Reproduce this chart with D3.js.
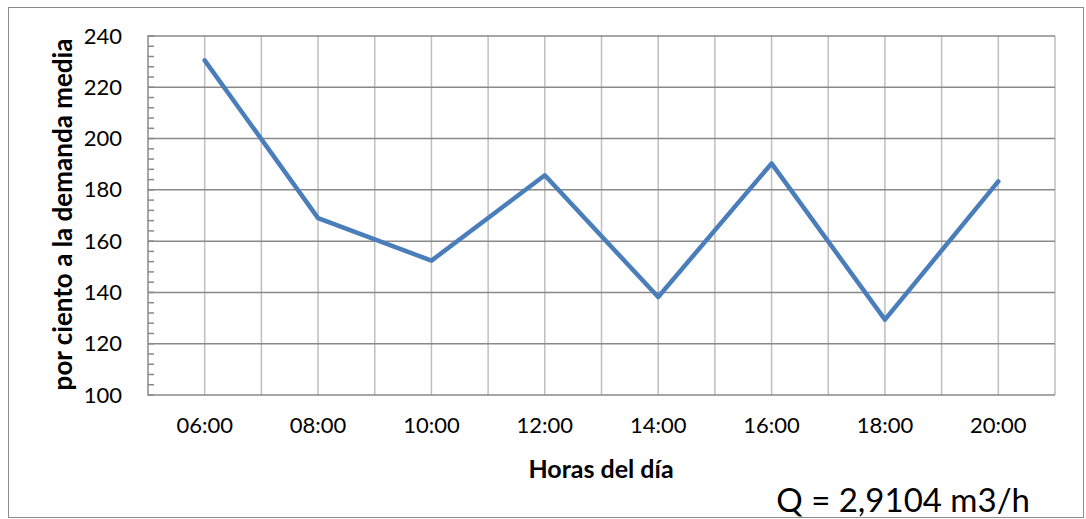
<!DOCTYPE html>
<html>
<head>
<meta charset="utf-8">
<script src="https://cdn.jsdelivr.net/npm/d3@7"></script>
<style>
  html, body { margin: 0; padding: 0; background: #fff; }
  svg { display: block; font-family: Lato, "Open Sans", sans-serif; }
</style>
</head>
<body>
<svg id="chart" width="1086" height="519"></svg>
<script>
// Hourly demand as a percentage of mean demand
const hours = ["06:00", "08:00", "10:00", "12:00", "14:00", "16:00", "18:00", "20:00"];
const percentOfMean = [230.5, 169.0, 152.4, 185.7, 138.2, 190.3, 129.4, 183.3];
const yTicks = [100, 120, 140, 160, 180, 200, 220, 240];
const yTitle = "por ciento a la demanda media";
const xTitle = "Horas del día";
const flowNote = "Q = 2,9104 m3/h";

const svg = d3.select("#chart");
const plot = { left: 148, right: 1055, top: 36, bottom: 395 };

// outer frame
svg.append("rect")
  .attr("x", 8.5).attr("y", 7.5)
  .attr("width", 1075).attr("height", 510)
  .attr("fill", "#fff").attr("stroke", "#8c8c8c").attr("stroke-width", 1);

const x = d3.scaleBand().domain(hours).range([plot.left, plot.right]).padding(0);
const y = d3.scaleLinear().domain([100, 240]).range([plot.bottom, plot.top]);

// vertical gridlines at each category centre and boundary
const step = x.bandwidth() / 2;
const vLines = d3.range(1, hours.length * 2 + 1).map(k => plot.left + k * step);
svg.append("g").selectAll("line").data(vLines).join("line")
  .attr("x1", d => d).attr("x2", d => d)
  .attr("y1", plot.top).attr("y2", plot.bottom)
  .attr("stroke", "#bfbfbf").attr("stroke-width", 1.5);

// horizontal gridlines
svg.append("g").selectAll("line").data(yTicks.filter(v => v > 100)).join("line")
  .attr("x1", plot.left).attr("x2", plot.right)
  .attr("y1", d => y(d)).attr("y2", d => y(d))
  .attr("stroke", "#898989").attr("stroke-width", 1.5);

// minor ticks on the value axis (pointing inward)
const minor = d3.range(100, 241, 4);
svg.append("g").selectAll("line").data(minor).join("line")
  .attr("x1", plot.left).attr("x2", plot.left + 6)
  .attr("y1", d => y(d)).attr("y2", d => y(d))
  .attr("stroke", "#898989").attr("stroke-width", 1.5);

// axis lines
svg.append("line")
  .attr("x1", plot.left).attr("x2", plot.left)
  .attr("y1", plot.top - 0.75).attr("y2", plot.bottom + 0.75)
  .attr("stroke", "#898989").attr("stroke-width", 1.5);
svg.append("line")
  .attr("x1", plot.left).attr("x2", plot.right)
  .attr("y1", plot.bottom).attr("y2", plot.bottom)
  .attr("stroke", "#898989").attr("stroke-width", 1.5);

// y tick labels
const yAxis = d3.axisLeft(y).tickValues(yTicks).tickSize(0).tickPadding(26);
const gy = svg.append("g").attr("transform", `translate(${plot.left},0)`).call(yAxis);
gy.select(".domain").remove();
gy.selectAll("text")
  .attr("font-family", "Lato, sans-serif").attr("font-size", 22).attr("fill", "#000");

// x tick labels
const xAxis = d3.axisBottom(x).tickSize(0).tickPadding(22);
const gx = svg.append("g").attr("transform", `translate(0,${plot.bottom})`).call(xAxis);
gx.select(".domain").remove();
gx.selectAll("text")
  .attr("font-family", "Lato, sans-serif").attr("font-size", 22).attr("fill", "#000");

// data line
const line = d3.line()
  .x((d, i) => x(hours[i]) + x.bandwidth() / 2)
  .y(d => y(d));
svg.append("path")
  .datum(percentOfMean)
  .attr("d", line)
  .attr("fill", "none")
  .attr("stroke", "#4a7ebb")
  .attr("stroke-width", 4.5)
  .attr("stroke-linejoin", "round")
  .attr("stroke-linecap", "round");

// axis titles
svg.append("text")
  .attr("transform", `translate(72,${(plot.top + plot.bottom) / 2 - 1}) rotate(-90)`)
  .attr("text-anchor", "middle")
  .attr("font-family", "Lato, sans-serif").attr("font-weight", "bold").attr("font-size", 26)
  .text(yTitle);

svg.append("text")
  .attr("x", 601).attr("y", 478)
  .attr("text-anchor", "middle")
  .attr("font-family", "Lato, sans-serif").attr("font-weight", "bold").attr("font-size", 25)
  .text(xTitle);

svg.append("text")
  .attr("x", 1030).attr("y", 512)
  .attr("text-anchor", "end")
  .attr("font-family", "Lato, sans-serif").attr("font-size", 33)
  .text(flowNote);
</script>
</body>
</html>
